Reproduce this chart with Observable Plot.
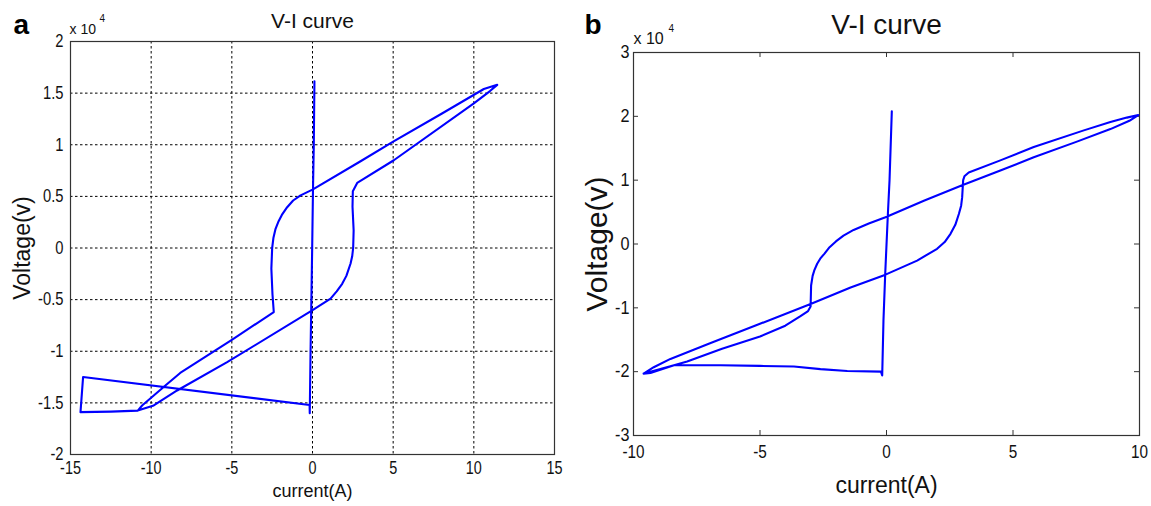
<!DOCTYPE html>
<html>
<head>
<meta charset="utf-8">
<script src="https://cdn.jsdelivr.net/npm/d3@7"></script>
<script src="https://cdn.jsdelivr.net/npm/@observablehq/plot@0.6"></script>
<style>
  body { margin: 0; background: #fff; }
  #fig { position: relative; width: 1151px; height: 506px; overflow: hidden; background: #fff; }
  #fig > svg { position: absolute; top: 0; overflow: visible; }
</style>
</head>
<body>
<div id="fig"></div>
<script>
// ---- Panel (a): V-I trace, voltage in units of 10^4 V ----
const aCurrent = [
  0.12, 0.08, 0.03, -0.02, -0.08, -0.12, -0.17, -0.18,
  -14.22, -14.38, -12.5, -10.83,
  -10.56, -9.1, -8.2, -5.0, -2.40, -2.48, -2.55, -2.50, -2.42, -2.29, -2.1, -1.9, -1.57, -1.2, -0.74, 0.0,
  2.98, 5.0, 8.0, 10.62, 11.45,
  11.0, 10.0, 5.04, 2.77, 2.50, 2.48, 2.55, 2.52, 2.46, 2.36, 2.1, 1.84, 1.5, 1.12, -0.02,
  -5.29, -8.39, -9.84, -10.83
];
const aVoltage = [
  1.615, 1.0, 0.565, 0.0, -0.6, -1.0, -1.6, -1.52,
  -1.25, -1.59, -1.585, -1.575,
  -1.525, -1.33, -1.21, -0.89, -0.62, -0.45, -0.2, 0.0, 0.10, 0.186, 0.26, 0.32, 0.395, 0.46, 0.51, 0.565,
  0.84, 1.03, 1.30, 1.54, 1.58,
  1.52, 1.40, 0.85, 0.63, 0.55, 0.40, 0.17, 0.0, -0.08, -0.15, -0.27, -0.347, -0.42, -0.49, -0.605,
  -1.106, -1.38, -1.525, -1.575
];
const aXTicks = [-15, -10, -5, 0, 5, 10, 15];
const aYTicks = [-2, -1.5, -1, -0.5, 0, 0.5, 1, 1.5, 2];

// ---- Panel (b): V-I trace, voltage in units of 10^4 V ----
const bCurrent = [
  0.21, 0.12, 0.05, -0.05, -0.12, -0.17, -0.22,
  -1.55, -2.61, -3.66, -5.0, -6.56, -8.4, -9.33, -9.6,
  -9.2, -8.54, -7.0, -5.0, -3.0, -1.42, -0.04, 1.21, 2.0, 2.3, 2.53, 2.72, 2.86, 2.95, 2.99, 3.03, 3.08, 3.25,
  4.5, 5.82, 7.8, 8.85, 9.5, 9.95,
  9.6, 8.85, 7.5, 5.82, 4.5, 2.99, 1.5, -0.04, -0.7, -1.3, -1.7, -2.0, -2.25, -2.45, -2.62, -2.74, -2.85, -2.92, -2.98,
  -3.0, -3.1, -3.4, -4.0, -5.0, -6.5, -7.88, -8.4, -9.33, -9.6
];
const bVoltage = [
  2.08, 1.0, 0.43, -0.46, -1.2, -2.06, -2.0,
  -1.99, -1.96, -1.92, -1.91, -1.90, -1.90, -2.02, -2.03,
  -1.93, -1.80, -1.56, -1.25, -0.94, -0.68, -0.48, -0.26, -0.075, 0.03, 0.16, 0.30, 0.47, 0.60, 0.73, 1.0, 1.06, 1.12,
  1.31, 1.52, 1.78, 1.91, 1.98, 2.02,
  1.93, 1.80, 1.60, 1.36, 1.15, 0.92, 0.68, 0.42, 0.32, 0.22, 0.13, 0.04, -0.05, -0.15, -0.23, -0.31, -0.41, -0.5, -0.65,
  -0.98, -1.05, -1.13, -1.28, -1.45, -1.64, -1.84, -1.90, -2.0, -2.03
];
const bXTicks = [-10, -5, 0, 5, 10];
const bYTicks = [-3, -2, -1, 0, 1, 2, 3];

const sans = "'Liberation Sans', Arial, Helvetica, sans-serif";
const fmt = d => String(d);
const traceColor = "#0000ff";
const dotted = {stroke: "#000", strokeOpacity: 1, strokeWidth: 1, strokeDasharray: "2.5,2.5"};

// Narrow the glyphs of the selected text elements about their own anchor point.
function squeeze(svg, selector, sx, sy) {
  svg.querySelectorAll(selector).forEach(el => {
    const t = el.getAttribute("transform");
    if (t) {
      el.setAttribute("transform", `${t} scale(${sx},${sy})`);
    } else {
      const x = +(el.getAttribute("x") || 0), y = +(el.getAttribute("y") || 0);
      el.setAttribute("transform", `translate(${x},${y}) scale(${sx},${sy}) translate(${-x},${-y})`);
    }
  });
}

// Panel (a): dotted grid, boxed axes
const plotA = Plot.plot({
  width: 580, height: 506,
  marginLeft: 70, marginRight: 26, marginTop: 41, marginBottom: 52,
  style: {fontFamily: sans, fontSize: "18px", color: "#111", background: "transparent", overflow: "visible"},
  x: {domain: [-15, 15]},
  y: {domain: [-2, 2]},
  marks: [
    Plot.gridX(aXTicks, dotted),
    Plot.gridY(aYTicks, dotted),
    Plot.frame({stroke: "#333", strokeWidth: 1.2}),
    Plot.axisX(aXTicks, {tickSize: 0, tickPadding: 7, tickFormat: fmt, label: null}),
    Plot.axisY(aYTicks, {tickSize: 0, tickPadding: 7, tickFormat: fmt, label: null}),
    Plot.line(aCurrent, {x: aCurrent, y: aVoltage, stroke: traceColor, strokeWidth: 2.1, strokeLinejoin: "round"}),
    Plot.text(["a"], {frameAnchor: "top-left", textAnchor: "start", lineAnchor: "bottom", dx: -57, dy: -8, fontSize: 28, fontWeight: "bold", fill: "#000"}),
    Plot.text(["V-I curve"], {ariaLabel: "title", frameAnchor: "top", textAnchor: "middle", lineAnchor: "bottom", dy: -14, fontSize: 21, fill: "#111"}),
    Plot.text(["x 10"], {frameAnchor: "top-left", textAnchor: "start", lineAnchor: "bottom", dx: -1, dy: -8, fontSize: 14, fill: "#111"}),
    Plot.text(["4"], {frameAnchor: "top-left", textAnchor: "start", lineAnchor: "bottom", dx: 29, dy: -20, fontSize: 10, fill: "#111"}),
    Plot.text(["current(A)"], {ariaLabel: "x label", frameAnchor: "bottom", textAnchor: "middle", lineAnchor: "bottom", dy: 42, fontSize: 18, fill: "#111"}),
    Plot.text(["Voltage(v)"], {ariaLabel: "y label", frameAnchor: "left", textAnchor: "middle", rotate: -90, dx: -48, fontSize: 23, fill: "#111"})
  ]
});
plotA.style.left = "0px";
squeeze(plotA, 'g[aria-label="x-axis tick label"] text', 0.8, 1);
squeeze(plotA, 'g[aria-label="y-axis tick label"] text', 0.82, 1);
squeeze(plotA, 'g[aria-label="y label"] text', 1, 0.85);

// Panel (b): plain box with inward ticks on all four sides
const bW = 571, bH = 506;
const bM = {left: 53, right: 12, top: 52, bottom: 71};
const bFrameW = bW - bM.left - bM.right;
const bFrameH = bH - bM.top - bM.bottom;
const tickLen = 5;
const plotB = Plot.plot({
  width: bW, height: bH,
  marginLeft: bM.left, marginRight: bM.right, marginTop: bM.top, marginBottom: bM.bottom,
  style: {fontFamily: sans, fontSize: "18px", color: "#111", background: "transparent", overflow: "visible"},
  x: {domain: [-10, 10]},
  y: {domain: [-3, 3]},
  marks: [
    Plot.ruleX(bXTicks, {stroke: "#333", insetTop: bFrameH - tickLen}),
    Plot.ruleX(bXTicks, {stroke: "#333", insetBottom: bFrameH - tickLen}),
    Plot.ruleY(bYTicks, {stroke: "#333", insetRight: bFrameW - tickLen}),
    Plot.ruleY(bYTicks, {stroke: "#333", insetLeft: bFrameW - tickLen}),
    Plot.frame({stroke: "#333", strokeWidth: 1.2}),
    Plot.axisX(bXTicks, {tickSize: 0, tickPadding: 10, tickFormat: fmt, label: null}),
    Plot.axisY(bYTicks, {tickSize: 0, tickPadding: 4, tickFormat: fmt, label: null}),
    Plot.line(bCurrent, {x: bCurrent, y: bVoltage, stroke: traceColor, strokeWidth: 2.1, strokeLinejoin: "round"}),
    Plot.text(["b"], {frameAnchor: "top-left", textAnchor: "start", lineAnchor: "bottom", dx: -49, dy: -19, fontSize: 28, fontWeight: "bold", fill: "#000"}),
    Plot.text(["V-I curve"], {ariaLabel: "title", frameAnchor: "top", textAnchor: "middle", lineAnchor: "bottom", dy: -19, fontSize: 28, fill: "#111"}),
    Plot.text(["x 10"], {frameAnchor: "top-left", textAnchor: "start", lineAnchor: "bottom", dx: 0, dy: -9, fontSize: 16, fill: "#111"}),
    Plot.text(["4"], {frameAnchor: "top-left", textAnchor: "start", lineAnchor: "bottom", dx: 35, dy: -21, fontSize: 10, fill: "#111"}),
    Plot.text(["current(A)"], {ariaLabel: "x label", frameAnchor: "bottom", textAnchor: "middle", lineAnchor: "bottom", dy: 57, fontSize: 23, fill: "#111"}),
    Plot.text(["Voltage(v)"], {ariaLabel: "y label", frameAnchor: "left", textAnchor: "middle", rotate: -90, dx: -36, fontSize: 30, fill: "#111"})
  ]
});
plotB.style.left = "580px";
squeeze(plotB, 'g[aria-label="x-axis tick label"] text', 0.85, 1);
squeeze(plotB, 'g[aria-label="y-axis tick label"] text', 0.9, 1);
squeeze(plotB, 'g[aria-label="title"] text', 0.88, 1);
squeeze(plotB, 'g[aria-label="x label"] text', 0.85, 1);
squeeze(plotB, 'g[aria-label="y label"] text', 1, 0.8);

const fig = document.getElementById("fig");
fig.appendChild(plotA);
fig.appendChild(plotB);
</script>
</body>
</html>
